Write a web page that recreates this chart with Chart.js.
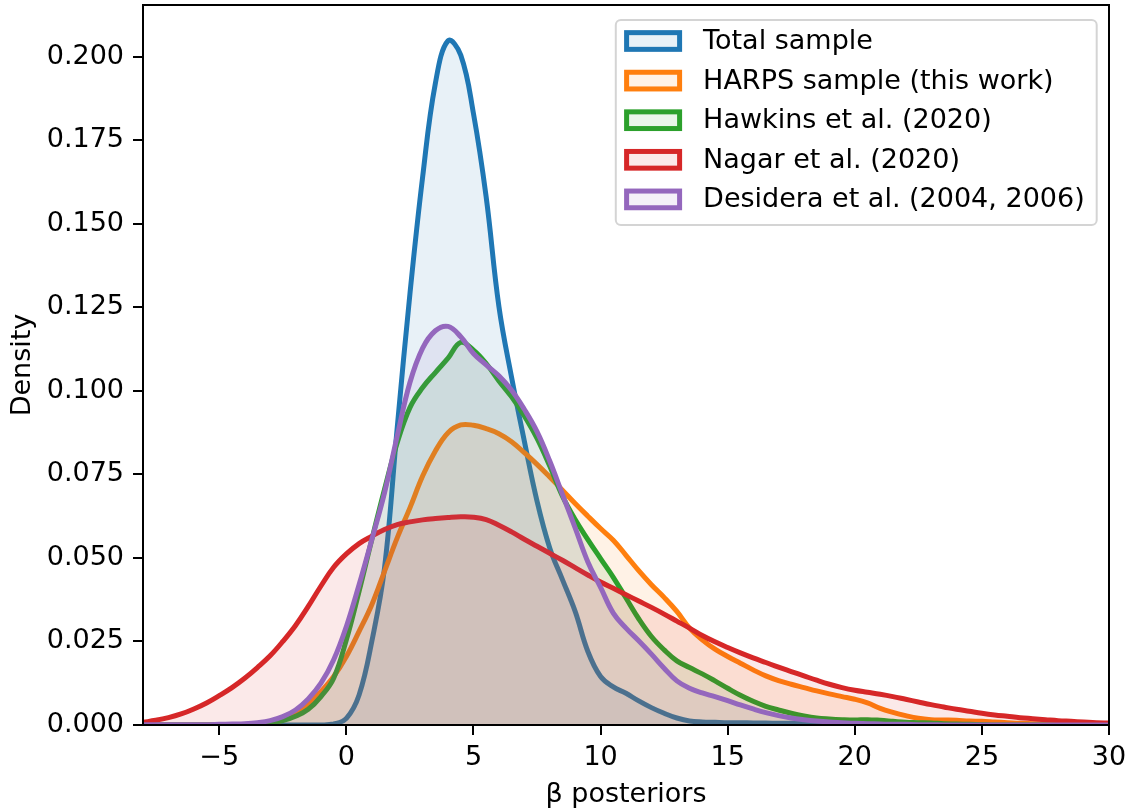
<!DOCTYPE html>
<html>
<head>
<meta charset="utf-8">
<script src="https://cdn.jsdelivr.net/npm/chart.js@4.4.0/dist/chart.umd.min.js"></script>
<style>
html,body{margin:0;padding:0;background:#fff;}
#wrap{width:1130px;height:808px;}
</style>
</head>
<body>
<div id="wrap"><canvas id="c" width="1130" height="808"></canvas></div>
<script>
// ---------- data ----------
const xGrid = [-8,-7.5,-7,-6.5,-6,-5.5,-5,-4.5,-4,-3.5,-3,-2.5,-2,-1.5,-1,-0.5,0,0.5,1,1.5,2,2.5,3,3.5,4,4.5,5,5.5,6,6.5,7,7.5,8,8.5,9,9.5,10,10.5,11,11.5,12,12.5,13,13.5,14,14.5,15,15.5,16,16.5,17,17.5,18,18.5,19,19.5,20,20.5,21,21.5,22,22.5,23,23.5,24,24.5,25,25.5,26,26.5,27,27.5,28,28.5,29,29.5,30];

const totalSample = [0,0,0,0,0,0,0,0,0,0,0,0,0,0,0,
  0.0003,0.002,0.009,0.025,0.047,0.089,0.129,0.164,0.192,0.2048,0.2005,0.183,0.158,0.1253,0.104,0.085,0.067,0.053,0.0435,0.034,0.022,0.0145,0.0114,0.0095,0.0072,0.0052,0.0035,0.0021,0.0012,0.0009,0.0008,0.0007,0.0007,0.0006,0.0006,0.0005,0.0005,0.0005,0.0004,0.0004,0.0004,0.0003,0.0003,0.0002,0.0002,0.0001,0.0001,0.0001,
  0,0,0,0,0,0,0,0,0,0,0,0,0,0];

const harpsSample = [0,0,0,0,0,0,0,0,0.0001,0.0003,
  0.0006,0.0015,0.0038,0.0063,0.010,0.0145,0.0205,0.028,0.036,0.046,0.056,0.065,0.0745,0.082,0.0875,0.0898,0.0897,0.0887,0.0872,0.0848,0.0815,0.078,0.0742,0.0703,0.0663,0.0625,0.0588,0.0553,0.0508,0.0462,0.042,0.0382,0.034,0.029,0.0255,0.0227,0.0205,0.0185,0.0165,0.0147,0.0133,0.0122,0.0112,0.0102,0.0093,0.0085,0.0077,0.0066,0.005,0.0038,0.0028,0.002,0.0016,0.0015,0.0014,0.0012,0.0011,0.0009,0.0007,0.0005,0.0004,0.0003,0.0002,0.0001,0.0001,0,0];

const hawkins2020 = [0,0,0,0,0,0,0,0,0,
  0.0002,0.0006,0.0013,0.0026,0.0047,0.0085,0.014,0.0255,0.040,0.0555,0.0705,0.0845,0.095,0.101,0.1055,0.1098,0.1145,0.1122,0.1082,0.103,0.0982,0.0925,0.0858,0.0775,0.0685,0.0615,0.0555,0.0498,0.0442,0.038,0.0318,0.0265,0.0225,0.0192,0.0172,0.0153,0.0132,0.011,0.0089,0.0071,0.0056,0.0045,0.0035,0.0027,0.0021,0.0018,0.0016,0.0015,0.0016,0.0014,0.0011,0.0008,0.0007,0.0006,0.0004,0.0003,0.0002,0.0001,
  0,0,0,0,0,0,0,0,0,0];

const nagar2020 = [0.0008,0.0014,0.0022,0.0033,0.0048,0.0066,0.0088,0.0112,0.014,0.0172,0.0207,0.025,0.0298,0.0355,0.0416,0.0472,0.0512,0.0543,0.0565,0.0585,0.060,0.0608,0.0614,0.0618,0.0621,0.0623,0.0622,0.0615,0.0598,0.0578,0.0556,0.0535,0.0514,0.0493,0.0471,0.0449,0.0428,0.0409,0.039,0.0371,0.0352,0.0332,0.0311,0.029,0.0268,0.0249,0.0232,0.0216,0.0201,0.0187,0.0173,0.016,0.0147,0.0134,0.0122,0.0112,0.0104,0.0098,0.0092,0.0085,0.0077,0.0069,0.0061,0.0054,0.0047,0.0041,0.0035,0.003,0.0026,0.0022,0.0019,0.0016,0.0013,0.0011,0.0009,0.0007,0.0006];

const desidera = [0.0001,0.0001,0.0001,0.0001,0.0001,0.0001,0.0002,0.0003,0.0004,0.0007,0.0013,0.0025,0.0045,0.0078,0.0125,0.0195,0.0295,0.042,0.0555,0.0695,0.0865,0.1025,0.1128,0.118,0.1193,0.1162,0.1112,0.1078,0.1045,0.1002,0.0945,0.0878,0.079,0.069,0.059,0.0488,0.0412,0.0335,0.029,0.0252,0.0212,0.017,0.0132,0.011,0.0096,0.0085,0.0073,0.006,0.0048,0.0037,0.0028,0.0021,0.0016,0.0012,0.0009,0.0007,0.0005,0.0004,0.0003,0.0002,0.0002,0.0001,0.0001,
  0,0,0,0,0,0,0,0,0,0,0,0,0,0];

const seriesLabels = ['Total sample','HARPS sample (this work)','Hawkins et al. (2020)','Nagar et al. (2020)','Desidera et al. (2004, 2006)'];
const seriesColors = ['#1f77b4','#ff7f0e','#2ca02c','#d62728','#9467bd'];
const xTicks = [-5,0,5,10,15,20,25,30];
const yTicks = [0,0.025,0.05,0.075,0.1,0.125,0.15,0.175,0.2];
const xTitle = 'β posteriors';
const yTitle = 'Density';

// ---------- chart ----------
const FONT = 'DejaVu Sans';
const FS = 27;
function rgba(hex, a){
  const n = parseInt(hex.slice(1),16);
  return 'rgba(' + ((n>>16)&255) + ',' + ((n>>8)&255) + ',' + (n&255) + ',' + a + ')';
}
const seriesValues = [totalSample, harpsSample, hawkins2020, nagar2020, desidera];
const datasets = seriesValues.map((vals, i) => ({
  label: seriesLabels[i],
  data: xGrid.map((x, j) => ({x: x, y: vals[j]})),
  borderColor: seriesColors[i],
  backgroundColor: rgba(seriesColors[i], 0.1),
  borderWidth: 5,
  borderJoinStyle: 'round',
  fill: 'origin',
  pointRadius: 0,
  pointHoverRadius: 0,
  tension: 0.4,
  order: seriesValues.length - i
}));

const framePlugin = {
  id: 'frame',
  afterDatasetsDraw(chart) {
    const {ctx, chartArea: a} = chart;
    ctx.save();
    ctx.strokeStyle = '#000';
    ctx.lineWidth = 2;
    ctx.strokeRect(a.left, a.top, a.right - a.left, a.bottom - a.top);
    ctx.restore();
  }
};

const legendPlugin = {
  id: 'boxLegend',
  afterDraw(chart) {
    const {ctx, chartArea: a} = chart;
    const dss = chart.data.datasets;
    ctx.save();
    ctx.font = FS + 'px "' + FONT + '"';
    let maxW = 0;
    dss.forEach(d => { maxW = Math.max(maxW, ctx.measureText(d.label).width); });
    const right = a.right - 12.3;
    const top = a.top + 15;
    const w = 87.3 + maxW + 12;
    const h = 205;
    const left = right - w;
    ctx.beginPath();
    if (ctx.roundRect) ctx.roundRect(left, top, w, h, 5); else ctx.rect(left, top, w, h);
    ctx.fillStyle = 'rgba(255,255,255,0.8)';
    ctx.fill();
    ctx.strokeStyle = 'rgba(204,204,204,0.85)';
    ctx.lineWidth = 2;
    ctx.stroke();
    dss.forEach((d, i) => {
      const cy = top + 21 + i * 39.6;
      const px = left + 10.8, pw = 53, ph = 16.7;
      ctx.fillStyle = '#fff';
      ctx.fillRect(px, cy - ph / 2, pw, ph);
      ctx.fillStyle = d.backgroundColor;
      ctx.fillRect(px, cy - ph / 2, pw, ph);
      ctx.strokeStyle = d.borderColor;
      ctx.lineWidth = 5;
      ctx.strokeRect(px, cy - ph / 2, pw, ph);
      ctx.fillStyle = '#000';
      ctx.textBaseline = 'middle';
      ctx.textAlign = 'left';
      ctx.fillText(d.label, left + 87.3, cy + 1);
    });
    ctx.restore();
  }
};

const tickFont = {family: FONT, size: FS};

new Chart(document.getElementById('c'), {
  type: 'line',
  data: {datasets: datasets},
  options: {
    responsive: false,
    animation: false,
    devicePixelRatio: 1,
    events: [],
    layout: {padding: {left: 0, right: 21, top: 5, bottom: 0}},
    plugins: {legend: {display: false}, tooltip: {enabled: false}},
    scales: {
      x: {
        type: 'linear',
        min: -8,
        max: 30,
        afterBuildTicks: s => { s.ticks = xTicks.map(v => ({value: v})); },
        afterFit: s => { s.height = 83; s.paddingLeft = 0; s.paddingRight = 0; },
        ticks: {
          font: tickFont, color: '#000', padding: 7, maxRotation: 0,
          callback: v => (v < 0 ? '\u2212' + Math.abs(v) : String(v))
        },
        grid: {drawOnChartArea: false, drawTicks: true, tickLength: 10, color: '#000', lineWidth: 2},
        border: {display: false},
        title: {display: true, text: xTitle, font: tickFont, color: '#000', padding: {top: 0, bottom: -3}}
      },
      y: {
        type: 'linear',
        min: 0,
        max: 0.2155,
        afterBuildTicks: s => { s.ticks = yTicks.map(v => ({value: v})); },
        afterFit: s => { s.width = 143; s.paddingTop = 0; s.paddingBottom = 0; },
        ticks: {
          font: tickFont, color: '#000', padding: 9,
          callback: v => v.toFixed(3)
        },
        grid: {drawOnChartArea: false, drawTicks: true, tickLength: 10, color: '#000', lineWidth: 2},
        border: {display: false},
        title: {display: true, text: yTitle, font: tickFont, color: '#000', padding: {top: 7, bottom: 0}}
      }
    }
  },
  plugins: [framePlugin, legendPlugin]
});
</script>
</body>
</html>
